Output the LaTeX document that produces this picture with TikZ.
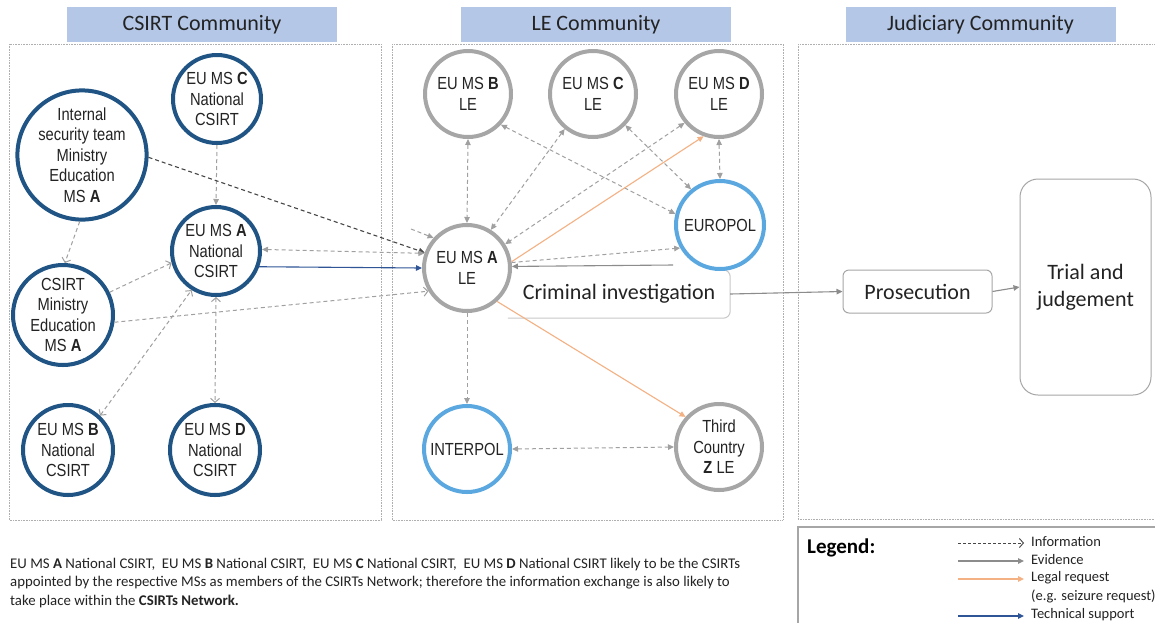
\documentclass[tikz,border=0pt]{standalone}
\usepackage{fontspec}
\setmainfont{Carlito}
\newfontfamily\circfont[FakeStretch=0.84]{Liberation Sans}
\usetikzlibrary{arrows.meta}
\pgfdeclarelayer{bg}
\pgfsetlayers{bg,main}

\definecolor{csirtblue}{RGB}{31,84,132}
\definecolor{legray}{RGB}{166,166,166}
\definecolor{polblue}{RGB}{91,168,224}
\definecolor{headfill}{RGB}{180,199,231}
\definecolor{inktext}{RGB}{35,35,35}
\definecolor{infogray}{RGB}{160,160,160}
\definecolor{darkinfo}{RGB}{70,70,70}
\definecolor{legalorange}{RGB}{244,177,131}
\definecolor{techblue}{RGB}{47,85,151}
\definecolor{evgray}{RGB}{140,140,140}
\definecolor{panelgray}{RGB}{175,175,175}
\definecolor{boxgray}{RGB}{200,200,200}

\newcommand\circtext{\circfont\fontsize{17.5}{20.5}\selectfont}

\tikzset{
  x=1pt, y=-1pt,
  >={Triangle[length=6pt,width=5.5pt]},
  openend/.style={-{Straight Barb[length=4pt,width=9pt]}},
  openboth/.style={{Straight Barb[length=4pt,width=9pt]}-{Straight Barb[length=4pt,width=9pt]}},
  ring/.style={circle, line width=4pt, fill=white, inner sep=0pt, align=center,
    font=\circtext, text=inktext},
  csirt/.style={ring, draw=csirtblue},
  lenode/.style={ring, draw=legray},
  polnode/.style={ring, draw=polblue},
  info/.style={draw=infogray, line width=1pt, dash pattern=on 4pt off 3pt},
  infodark/.style={draw=darkinfo, line width=1.1pt, dash pattern=on 4pt off 3pt},
  legal/.style={draw=legalorange, line width=1.1pt},
  tech/.style={draw=techblue, line width=1.1pt},
  evid/.style={draw=evgray, line width=1.1pt},
  panel/.style={draw=panelgray, line width=0.8pt, dash pattern=on 0.8pt off 0.8pt},
  header/.style={fill=headfill, minimum width=270pt, minimum height=35pt, inner sep=0pt,
    font=\fontsize{22}{25}\selectfont, text=inktext},
  flowbox/.style={draw=legray, line width=1pt, fill=white, align=center,
    font=\fontsize{22}{27}\selectfont, text=inktext, inner sep=0pt},
  legtext/.style={anchor=west, inner sep=0pt, font=\fontsize{14.5}{16}\selectfont, text=inktext}
}

\begin{document}
\begin{tikzpicture}
\clip (0,0) rectangle (1155,622);
\fill[white] (0,0) rectangle (1155,622);

% community panels and their titles
\draw[panel] (9,44) rectangle (381,520);
\draw[panel] (392,44) rectangle (783,520);
\draw[panel] (798,44) rectangle (1170,519);
\node[header] (hcsirt) at (202,24.5) {CSIRT Community};
\node[header] (hle) at (596,24.5) {LE Community};
\node[header] (hjud) at (980.5,24.5) {Judiciary Community};

% criminal investigation box (left part hidden by the LE circle)
\node[fill=white, minimum width=222pt, minimum height=48pt, inner sep=0pt,
  font=\fontsize{22}{27}\selectfont, text=inktext] (crim) at (619,294) {Criminal investigation};
\draw[draw=boxgray, line width=1pt, rounded corners=7pt]
  ([xshift=-12pt]crim.north east) -- (crim.north east) -- (crim.south east) -- (crim.south west);

% CSIRT community
\node[csirt, minimum size=88pt] (cC) at (217,99) {EU MS \textbf{C}\\National\\CSIRT};
\node[csirt, minimum size=112pt] (cInt) at (82,155) {Internal\\security team\\Ministry\\Education\\MS \textbf{A}};
\node[csirt, minimum size=88pt] (cA) at (216,251) {EU MS \textbf{A}\\National\\CSIRT};
\node[csirt, minimum size=100pt] (cMin) at (63,315) {CSIRT\\Ministry\\Education\\MS \textbf{A}};
\node[csirt, minimum size=90pt] (cB) at (68,450) {EU MS \textbf{B}\\National\\CSIRT};
\node[csirt, minimum size=90pt] (cD) at (215,450) {EU MS \textbf{D}\\National\\CSIRT};

% LE community
\node[lenode, minimum size=86pt] (lB) at (468,94) {EU MS \textbf{B}\\LE};
\node[lenode, minimum size=86pt] (lC) at (593,94) {EU MS \textbf{C}\\LE};
\node[lenode, minimum size=86pt] (lD) at (719,94) {EU MS \textbf{D}\\LE};
\node[polnode, minimum size=88pt] (eur) at (720,225) {EUROPOL};
\node[lenode, minimum size=86pt] (lA) at (467,268) {EU MS \textbf{A}\\LE};
\node[polnode, minimum size=86pt] (intp) at (467,449) {INTERPOL};
\node[lenode, minimum size=86pt] (lZ) at (719,447) {Third\\Country\\\textbf{Z} LE};

% judiciary community
\node[flowbox, rounded corners=6pt, minimum width=149pt, minimum height=43pt] (pros) at (917.5,291.5) {Prosecution};
\node[flowbox, rounded corners=18pt, minimum width=131pt, minimum height=216pt] (trial) at (1085.5,287) {Trial and\\judgement};

% exchanges inside the CSIRT community
\draw[info,->] (cC.south) -- (cA.north);
\draw[infodark,->] (cInt.-2) -- (lA.160);
\draw[info,openend] (cInt.-92) -- (cMin.88);
\draw[info,openend] (cMin.26) -- (cA.-165);
\draw[info,openend] (cMin.-8) -- (lA.211);
\draw[info,openboth] (cB.47) -- (cA.238);
\draw[info,openboth] (cA.south) -- (cD.north);
\draw[info,<->] (cA.2) -- (lA.161);
\draw[tech,->] (cA.-20) -- (lA.west);
\coordinate (stub) at (411,229);
\draw[info,->] (stub) -- (lA.138);

% exchanges inside the LE community
\draw[info,<->] (lB.south) -- (lA.north);
\draw[info,<->] (lC.-129) -- (lA.58);
\draw[info,<->] (lD.220) -- (lA.32);
\draw[info,<->] (lB.-43) -- (eur.166);
\draw[info,<->] (lC.-44) -- (eur.129);
\draw[legal,->] (lA.8) -- (lD.250);
\draw[info,<->] (lD.south) -- (eur.north);
\draw[info,->] (lA.7) -- (eur.210);
\coordinate (evsrc) at (673,265);
\draw[evid,->] (evsrc) -- (lA.2);
\begin{pgfonlayer}{bg}
\draw[info,<->] (intp.39) -- (eur.229);
\end{pgfonlayer}
\draw[info,->] (lA.south) -- (intp.north);
\draw[legal,->] (lA.-48) -- (lZ.138);
\draw[info,<->] (intp.east) -- (lZ.west);

% case flow towards the judiciary
\draw[evid,->] (crim.east) -- (pros.west);
\draw[evid,->] (pros.east) -- (trial.west);

% note on the CSIRTs Network (anchored on the baseline of its last line)
\node[anchor=base west, inner sep=0pt, align=left, text=inktext,
  font=\fontsize{14.8}{18.5}\selectfont] (note) at (10,605)
  {EU MS \textbf{A} National CSIRT,\ \ EU MS \textbf{B} National CSIRT,\ \ EU MS \textbf{C} National CSIRT,\ \ EU MS \textbf{D} National CSIRT likely to be the CSIRTs\\
   appointed by the respective MSs as members of the CSIRTs Network; therefore the information exchange is also likely to\\
   take place within the \textbf{CSIRTs Network.}};

% legend
\draw[draw=legray, line width=1.2pt] (798,527) rectangle (1170,630);
\node[anchor=west, inner sep=0pt, font=\bfseries\fontsize{21}{24}\selectfont, text=black] (legtitle) at (807,548) {Legend:};
\coordinate (li0) at (958,543); \coordinate (li1) at (1024,543);
\coordinate (le0) at (958,561); \coordinate (le1) at (1024,561);
\coordinate (ll0) at (958,579); \coordinate (ll1) at (1024,579);
\coordinate (lt0) at (958,616); \coordinate (lt1) at (1024,616);
\draw[draw=darkinfo, line width=0.9pt, dash pattern=on 3pt off 2pt, openend] (li0) -- (li1);
\draw[evid,->] (le0) -- (le1);
\draw[legal,->] (ll0) -- (ll1);
\draw[tech,->] (lt0) -- (lt1);
\node[legtext] (tinfo) at (1031,542) {Information};
\node[legtext] (tev) at (1031,560) {Evidence};
\node[legtext] (tleg) at (1031,578) {Legal request};
\node[legtext] (teg) at (1031,596) {(e.g. seizure request)};
\node[legtext] (ttech) at (1031,615) {Technical support};
\end{tikzpicture}
\end{document}
